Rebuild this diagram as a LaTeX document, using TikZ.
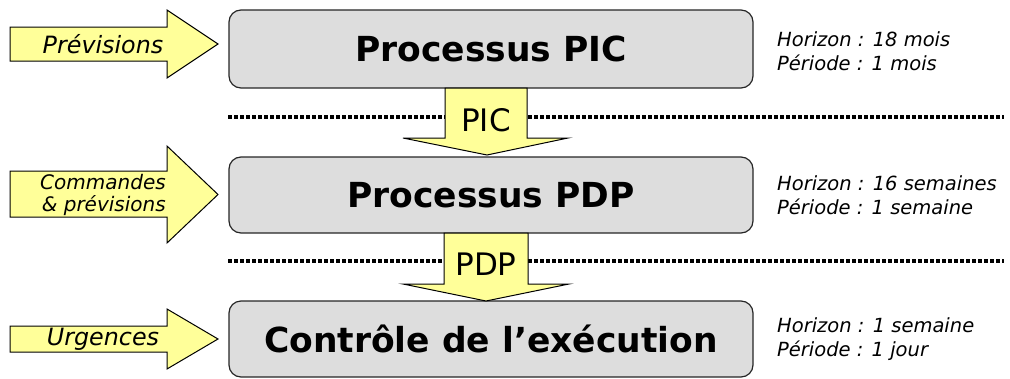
\documentclass[tikz,border=0pt]{standalone}
\usepackage{fontspec}
\setmainfont{DejaVu Sans}
\definecolor{arrowyellow}{HTML}{FFFF99}
\definecolor{boxgray}{HTML}{DDDDDD}
\begin{document}
\begin{tikzpicture}[x=1pt,y=-1pt,
  procbox/.style={draw=black!85,line width=1.2pt,fill=boxgray,rounded corners=12pt},
  yarrow/.style={draw=black,line width=1pt,fill=arrowyellow,line join=miter},
  sepline/.style={line width=3.6pt,dash pattern=on 4pt off 2pt,black},
  title/.style={font=\fontsize{34.5}{40}\selectfont\bfseries,inner sep=0pt},
  inlabel/.style={font=\fontsize{23.8}{28}\selectfont\itshape,inner sep=0pt},
  sidelabel/.style={font=\fontsize{19.5}{23.5}\selectfont\itshape,inner sep=0pt,align=left,anchor=west},
  flowlabel/.style={font=\fontsize{31}{34}\selectfont,inner sep=0pt}]
\useasboundingbox (0,0) rectangle (1010,378);
% dotted separators
\coordinate (s1a) at (228,117); \coordinate (s1b) at (1004,117);
\coordinate (s2a) at (228,261); \coordinate (s2b) at (1004,261);
\draw[sepline] (s1a) -- (s1b);
\draw[sepline] (s2a) -- (s2b);
% process boxes
\path[procbox] (229,10) rectangle (753,88);
\node[title] (pic) at (491,49) {Processus PIC};
\path[procbox] (229,157) rectangle (753,233);
\node[title] (pdp) at (491,195) {Processus PDP};
\path[procbox] (229,301) rectangle (753,377);
\node[title] (ctl) at (491,339) {Contrôle de l’exécution};
% input arrows
\draw[yarrow] (10,27) -- (167,27) -- (167,10) -- (218,44) -- (167,78) -- (167,61) -- (10,61) -- cycle;
\node[inlabel] (in1) at (103,44) {Prévisions};
\draw[yarrow] (10,171) -- (167,171) -- (167,146) -- (218,194.5) -- (167,243) -- (167,217) -- (10,217) -- cycle;
\node[font=\fontsize{20}{22.5}\selectfont\itshape,inner sep=0pt,align=right] (in2) at (103,195) {Commandes\\\& prévisions};
\draw[yarrow] (10,326) -- (167,326) -- (167,309) -- (218,339) -- (167,369) -- (167,352) -- (10,352) -- cycle;
\node[inlabel] (in3) at (103,339) {Urgences};
% down arrows
\draw[yarrow] (445,88) -- (527,88) -- (527,138) -- (568,138) -- (487,155) -- (403,138) -- (445,138) -- cycle;
\node[flowlabel] (f1) at (486,120) {PIC};
\draw[yarrow] (444,233) -- (528,233) -- (528,284) -- (569,284) -- (486,301) -- (403,284) -- (444,284) -- cycle;
\node[flowlabel] (f2) at (486,264) {PDP};
% side labels
\node[sidelabel] (h1) at (777,51) {Horizon : 18 mois\\Période : 1 mois};
\node[sidelabel] (h2) at (777,195) {Horizon : 16 semaines\\Période : 1 semaine};
\node[sidelabel] (h3) at (777,339) {Horizon : 1 semaine\\Période : 1 jour};
\end{tikzpicture}
\end{document}
